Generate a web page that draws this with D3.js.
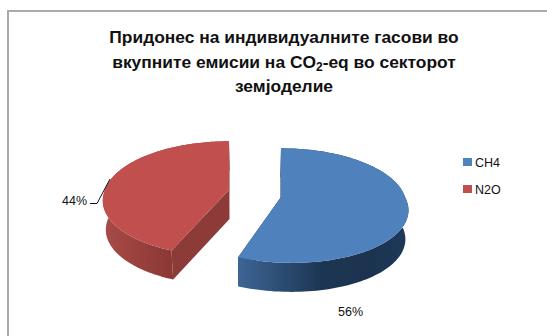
<!DOCTYPE html>
<html><head><meta charset="utf-8">
<script src="https://cdn.jsdelivr.net/npm/d3@7"></script>
<style>html,body{margin:0;padding:0;background:#fff}svg{display:block}text{font-family:"Liberation Sans",Arial,sans-serif;fill:#111}</style>
</head><body>
<script>
const categories = ["CH4", "N2O"];
const values = [56, 44];
const valueLabels = ["56%", "44%"];
const topColors = ["#4f81bd", "#c0504d"];
const sideColors = ["#1d3552", "#8c3a38"];

const W = 547, H = 336;
const svg = d3.select("body").append("svg").attr("width", W).attr("height", H);
const defs = svg.append("defs");
defs.append("filter").attr("id","soft").append("feGaussianBlur").attr("stdDeviation",0.45);
const grads = [
  {id:"gb", x1:239, x2:405, stops:[[0,"#3c6595"],[0.5,"#1d3552"],[0.8,"#1c3350"],[1,"#20395a"]]},
  {id:"gr", x1:104, x2:176, stops:[[0,"#a84a47"],[1,"#8a3634"]]}
];
grads.forEach(g=>{
  const lg = defs.append("linearGradient").attr("id",g.id).attr("gradientUnits","userSpaceOnUse")
    .attr("x1",g.x1).attr("x2",g.x2).attr("y1",0).attr("y2",0);
  g.stops.forEach(s=>lg.append("stop").attr("offset",s[0]).attr("stop-color",s[1]));
});

// frame
svg.append("path").attr("d",`M8 ${H}V11H${W}`).attr("fill","none").attr("stroke","#aaaaaa").attr("stroke-width",2);

// 3-D pie projection
const VX = 255, LX = 245, P = 0.15, A = 56, R = 124, DEPTH = 29, S = 0.98, Q = 0.3;
const tips = [[281,197],[229,190]];
function proj(i, th, r, low){
  const u = R*r*Math.sin(th), v = -r*Math.cos(th);
  const k = 1/(1-P*v);
  let x = tips[i][0] + u*k + (tips[i][0]-LX)*Q*Math.max(0,v), y = tips[i][1]+A*v*k;
  if(low){ x = VX+(x-VX)*S; y += DEPTH; }
  return [x,y];
}
const arcs = d3.pie().sort(null)(values);
const line = d3.line();
const g = svg.append("g").attr("filter","url(#soft)");
arcs.forEach((a,i)=>{
  const ths = d3.range(0,121).map(j=>a.startAngle+(a.endAngle-a.startAngle)*j/120);
  const topArc = ths.map(t=>proj(i,t,1,false));
  const lowArc = ths.map(t=>proj(i,t,1,true));
  [a.startAngle,a.endAngle].forEach(t=>{
    const poly=[proj(i,t,0,false),proj(i,t,1,false),proj(i,t,1,true),proj(i,t,0,true)];
    g.append("path").attr("d",line(poly)+"Z").attr("fill",sideColors[i]);
  });
  g.append("path").attr("d",line(topArc.concat(lowArc.slice().reverse()))+"Z").attr("fill",`url(#${grads[i].id})`);
  g.append("path").attr("d",line([proj(i,0,0,false)].concat(topArc))+"Z").attr("fill",topColors[i]);
});

// title
const title = svg.append("g").attr("text-anchor","middle").attr("font-weight","bold").attr("font-size",17.4);
title.append("text").attr("x",284).attr("y",43).text("Придонес на индивидуалните гасови во");
const t2 = title.append("text").attr("x",284).attr("y",68);
t2.append("tspan").text("вкупните емисии на CO");
t2.append("tspan").attr("font-size",12).attr("dy",3).text("2");
t2.append("tspan").attr("dy",-3).text("-eq во секторот");
title.append("text").attr("x",284).attr("y",92).text("земјоделие");

// legend
const yLeg = d3.scalePoint().domain(categories).range([162,189]);
categories.forEach((c,i)=>{
  svg.append("rect").attr("x",463).attr("y",yLeg(c)-4).attr("width",9).attr("height",8).attr("fill",topColors[i]);
  svg.append("text").attr("x",475).attr("y",yLeg(c)+4.5).attr("font-size",12.5).text(c);
});

// data labels
svg.append("text").attr("x",338).attr("y",316).attr("font-size",12.5).text(valueLabels[0]);
svg.append("text").attr("x",62).attr("y",205).attr("font-size",12.5).text(valueLabels[1]);
svg.append("path").attr("d","M90 203.5H97L110 179").attr("fill","none").attr("stroke","#111").attr("stroke-width",1);
</script>
</body></html>
